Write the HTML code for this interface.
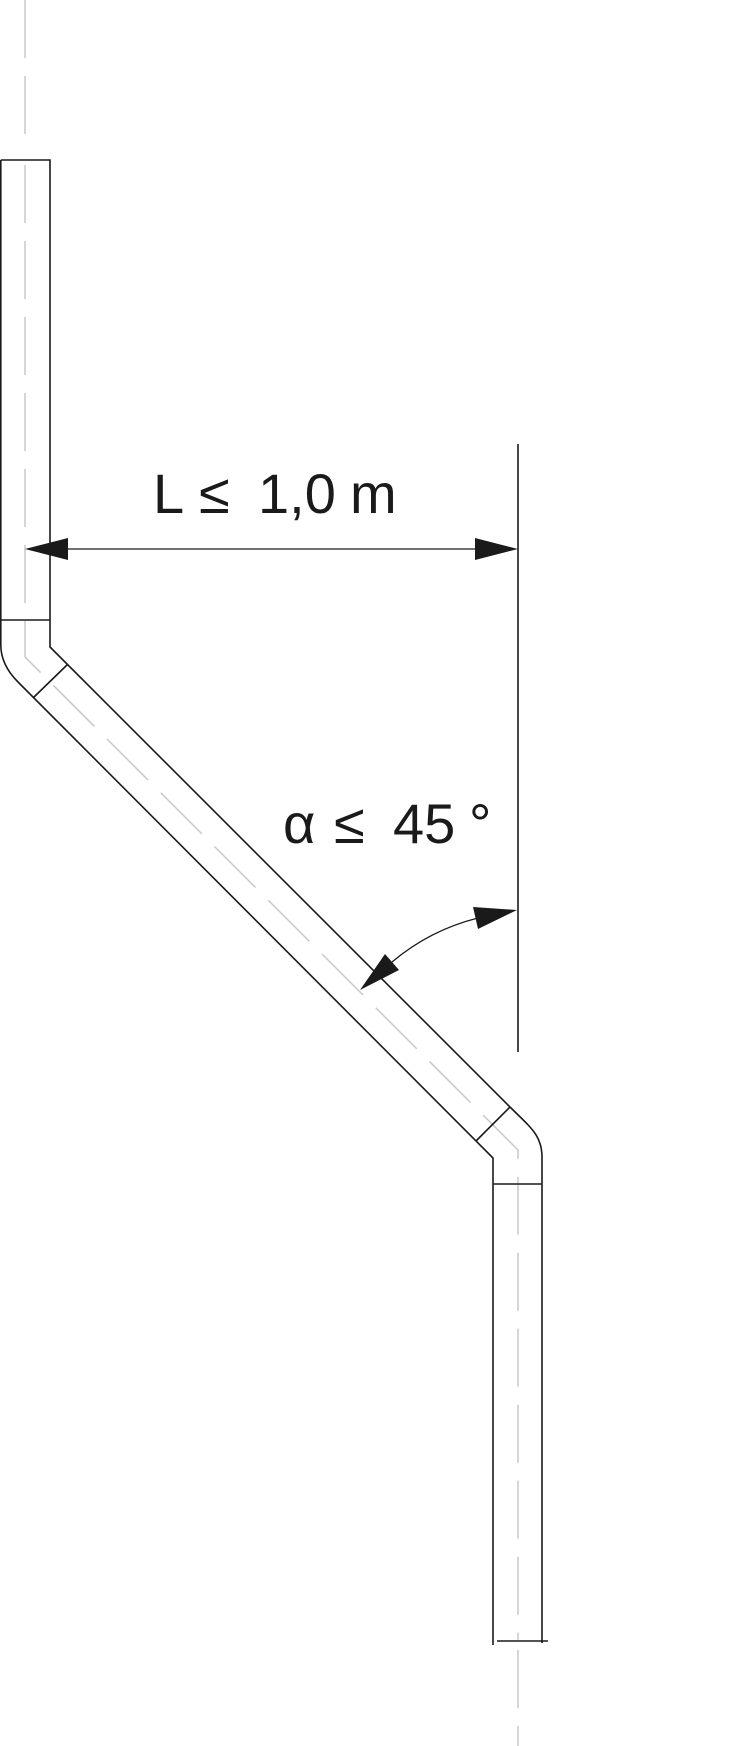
<!DOCTYPE html>
<html><head><meta charset="utf-8"><style>
html,body{margin:0;padding:0;background:#fff;}
svg{display:block;}
</style></head><body>
<svg width="750" height="1746" viewBox="0 0 750 1746" xmlns="http://www.w3.org/2000/svg">
<g fill="none" stroke="#c8c8c8" stroke-width="1.5" stroke-dasharray="58 18">
  <line x1="25" y1="0" x2="25" y2="150"/>
  <polyline points="25,165 25,657 518,1150 518,1640"/>
  <line x1="518" y1="1650" x2="518" y2="1746"/>
</g>
<g fill="none" stroke="#1a1a1a" stroke-width="1.6">
  <polyline points="0.8,160 50,160 50,647 510,1107"/>
  <path d="M510,1107 C530,1127 542,1135 542,1157 L542,1643"/>
  <path d="M0.8,160 L0.8,645 C0.8,660 8,672 18,682 L493,1158 L493,1645"/>
  <line x1="0" y1="620" x2="50" y2="620"/>
  <line x1="33" y1="698" x2="68" y2="664"/>
  <line x1="476" y1="1141" x2="510" y2="1107"/>
  <line x1="493" y1="1184" x2="542" y2="1184"/>
  <line x1="497" y1="1641" x2="548" y2="1641"/>
  <line x1="518" y1="444" x2="518" y2="1052"/>
  <line x1="60" y1="549" x2="480" y2="549" stroke-width="1.2"/>
  <path d="M392,962 Q430,930 478,918" stroke-width="1.3"/>
</g>
<g fill="#1a1a1a">
  <polygon points="25,549 68,538 68,560"/>
  <polygon points="518,549 475,538 475,560"/>
  <polygon points="517,910 473,907 478,929"/>
  <polygon points="360,990 385,954 399,970"/>
</g>
<g font-family="Liberation Sans, Arial, sans-serif" font-size="56" fill="#1a1a1a">
  <text x="153" y="513">L</text>
  <text x="199" y="513">≤</text>
  <text x="258" y="513">1,0</text>
  <text x="350" y="513">m</text>
  <text x="283" y="843">α</text>
  <text x="334" y="843">≤</text>
  <text x="393" y="843">45</text>
  <text x="469" y="843">°</text>
</g>
</svg>
</body></html>
